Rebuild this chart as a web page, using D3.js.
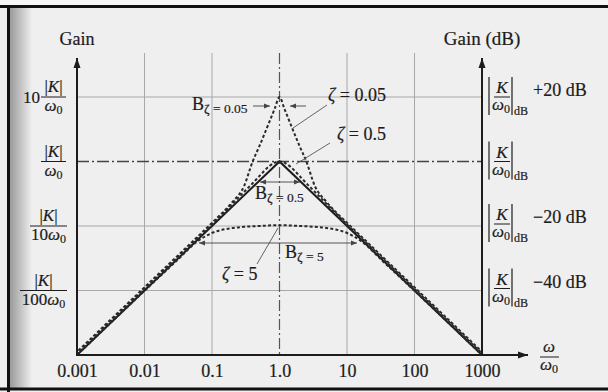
<!DOCTYPE html>
<html>
<head>
<meta charset="utf-8">
<script src="https://cdn.jsdelivr.net/npm/d3@7"></script>
<style>
  body { margin: 0; background: #fff; }
  svg { display: block; }
  text { font-family: "Liberation Serif", "DejaVu Serif", serif; fill: #1c1c1c; stroke: #1c1c1c; stroke-width: 0.2; }
</style>
</head>
<body>
<svg width="608" height="392"></svg>
<script>
// frequency axis (omega / omega0)
const xTicks = [0.001, 0.01, 0.1, 1, 10, 100, 1000];
const xTickLabels = ["0.001", "0.01", "0.1", "1.0", "10", "100", "1000"];

// gain levels (relative to |K|/omega0)
const gainTicks = [10, 1, 0.1, 0.01];
const gainPrefixes = ["10", "", "", ""];
const gainDenoms = ["", "", "10", "100"];
const dbLabels = ["+20 dB", "", "\u221220 dB", "\u221240 dB"];

// straight-line asymptote
const asymFreq = [0.001, 1, 1000];
const asymGain = [0.001, 1, 0.001];

// curves
const freq = [0.001, 0.01, 0.03, 0.06, 0.1, 0.2, 0.3, 0.4, 0.5, 0.7, 0.85, 1,
  1.18, 1.43, 2, 2.5, 3.33, 5, 10, 16.7, 33.3, 100, 1000];
const gainZ005 = [0.00112, 0.0112, 0.0335, 0.067, 0.112, 0.235, 0.42, 1.0, 1.7, 4.0, 6.6, 10,
  6.6, 4.0, 1.7, 1.0, 0.42, 0.235, 0.112, 0.067, 0.0335, 0.0112, 0.00112];
const gainZ05 = [0.00106, 0.0106, 0.0318, 0.0635, 0.106, 0.22, 0.34, 0.46, 0.59, 0.84, 0.96, 1,
  0.96, 0.84, 0.59, 0.46, 0.34, 0.22, 0.106, 0.0635, 0.0318, 0.0106, 0.00106];
const gainZ5 = [0.001, 0.0099, 0.029, 0.057, 0.078, 0.093, 0.097, 0.099, 0.1, 0.102, 0.103, 0.103,
  0.103, 0.102, 0.1, 0.099, 0.097, 0.093, 0.078, 0.057, 0.029, 0.0099, 0.001];

const svg = d3.select("svg");

const x = d3.scaleLog().domain([0.001, 1000]).range([77, 482]);
const y = d3.scaleLog().domain([0.001, 10]).range([355, 97]);

// arrow markers
const defs = svg.append("defs");
defs.append("marker")
  .attr("id", "arrow")
  .attr("viewBox", "0 0 10 10")
  .attr("refX", 10).attr("refY", 5)
  .attr("markerWidth", 10).attr("markerHeight", 10)
  .attr("markerUnits", "userSpaceOnUse")
  .attr("orient", "auto")
  .append("path").attr("d", "M0,1.5 L10,5 L0,8.5 Z").attr("fill", "#1c1c1c");
defs.append("marker")
  .attr("id", "small")
  .attr("viewBox", "0 0 10 10")
  .attr("refX", 10).attr("refY", 5)
  .attr("markerWidth", 6).attr("markerHeight", 6)
  .attr("markerUnits", "userSpaceOnUse")
  .attr("orient", "auto-start-reverse")
  .append("path").attr("d", "M0,1 L10,5 L0,9 Z").attr("fill", "#444");
const shade = defs.append("linearGradient").attr("id", "shade");
shade.append("stop").attr("offset", "0").attr("stop-color", "#9a9a9a");
shade.append("stop").attr("offset", "1").attr("stop-color", "#efefef");

// scanned page background
svg.append("rect").attr("width", 608).attr("height", 392).attr("fill", "#efefef");
svg.append("rect").attr("x", 10).attr("y", 8).attr("width", 22).attr("height", 380).attr("fill", "url(#shade)");
svg.append("rect").attr("x", 0).attr("y", 0).attr("width", 608).attr("height", 5).attr("fill", "#f6f6f6");
svg.append("line").attr("x1", 0).attr("x2", 608).attr("y1", 6.5).attr("y2", 6.5).attr("stroke", "#111").attr("stroke-width", 3);
svg.append("line").attr("x1", 8.5).attr("x2", 8.5).attr("y1", 6).attr("y2", 392).attr("stroke", "#111").attr("stroke-width", 3);
svg.append("line").attr("x1", 0).attr("x2", 608).attr("y1", 389).attr("y2", 389).attr("stroke", "#111").attr("stroke-width", 3);

// grid
const grid = svg.append("g");
grid.selectAll(".vg").data(xTicks.filter(d => d !== 0.001 && d !== 1 && d !== 1000)).join("line")
  .attr("x1", d => x(d)).attr("x2", d => x(d))
  .attr("y1", 53).attr("y2", y(0.001))
  .attr("stroke", "#a8a8a8").attr("stroke-width", 1);
grid.selectAll(".hg").data(gainTicks.filter(d => d !== 1)).join("line")
  .attr("x1", x(0.001)).attr("x2", x(1000))
  .attr("y1", d => y(d)).attr("y2", d => y(d))
  .attr("stroke", "#a8a8a8").attr("stroke-width", 1);
// dash-dot reference lines at omega0 and |K|/omega0
grid.append("line")
  .attr("x1", x(1)).attr("x2", x(1)).attr("y1", 53).attr("y2", y(0.001))
  .attr("stroke", "#555").attr("stroke-width", 1.2).attr("stroke-dasharray", "11,3,2,3");
grid.append("line")
  .attr("x1", x(0.001)).attr("x2", x(1000)).attr("y1", y(1)).attr("y2", y(1))
  .attr("stroke", "#444").attr("stroke-width", 1.4).attr("stroke-dasharray", "12,3,2,3");

// curves
const line = d3.line().x(d => x(d[0])).y(d => y(d[1])).curve(d3.curveMonotoneX);
const straight = d3.line().x(d => x(d[0])).y(d => y(d[1]));

svg.append("path")
  .attr("d", straight(d3.zip(asymFreq, asymGain)))
  .attr("fill", "none").attr("stroke", "#1c1c1c").attr("stroke-width", 2);

[gainZ5, gainZ05, gainZ005].forEach((g, i) => {
  svg.append("path")
    .attr("d", line(d3.zip(freq, g)))
    .attr("fill", "none").attr("stroke", "#2a2a2a")
    .attr("stroke-width", 2)
    .attr("stroke-dasharray", "3,2.2")
    .attr("stroke-dashoffset", i * 1.7);
});

// axes
svg.append("line")
  .attr("x1", x(0.001)).attr("x2", 528).attr("y1", y(0.001)).attr("y2", y(0.001))
  .attr("stroke", "#1c1c1c").attr("stroke-width", 2).attr("marker-end", "url(#arrow)");
[0.001, 1000].forEach(v => {
  svg.append("line")
    .attr("x1", x(v)).attr("x2", x(v)).attr("y1", y(0.001) + 1).attr("y2", 58)
    .attr("stroke", "#1c1c1c").attr("stroke-width", 2).attr("marker-end", "url(#arrow)");
});

const xAxis = d3.axisBottom(x)
  .tickValues(xTicks)
  .tickFormat((d, i) => xTickLabels[i])
  .tickSize(0)
  .tickPadding(9);
const gx = svg.append("g").attr("transform", `translate(0,${y(0.001)})`).call(xAxis);
gx.select(".domain").remove();
gx.selectAll("text").attr("font-size", 18).attr("fill", "#1c1c1c")
  .style("font-family", "'Liberation Serif', serif");

// axis titles
svg.append("text").attr("x", x(0.001)).attr("y", 45).attr("text-anchor", "middle")
  .attr("font-size", 18).text("Gain");
svg.append("text").attr("x", x(1000)).attr("y", 45).attr("text-anchor", "middle")
  .attr("font-size", 19).text("Gain (dB)");

// omega / omega0 label
const xl = svg.append("g");
xl.append("text").attr("x", 549).attr("y", 352).attr("text-anchor", "middle")
  .attr("font-size", 17).attr("font-style", "italic").text("\u03c9");
xl.append("line").attr("x1", 540).attr("x2", 559).attr("y1", 357).attr("y2", 357)
  .attr("stroke", "#1c1c1c").attr("stroke-width", 1);
const xd = xl.append("text").attr("x", 549).attr("y", 370).attr("text-anchor", "middle").attr("font-size", 17);
xd.append("tspan").attr("font-style", "italic").text("\u03c9");
xd.append("tspan").attr("font-size", 12).attr("dy", 3).text("0");

// left gain labels (fractions)
gainTicks.forEach((g, i) => {
  const y0 = y(g);
  const grp = svg.append("g");
  const right = i < 2 ? 66 : 67;
  const left = i < 2 ? 41 : (i === 2 ? 30 : 20);
  const xc = (left + right) / 2;
  grp.append("line").attr("x1", left).attr("x2", right).attr("y1", y0).attr("y2", y0)
    .attr("stroke", "#1c1c1c").attr("stroke-width", 1);
  const num = grp.append("text").attr("x", xc).attr("y", y0 - 5).attr("text-anchor", "middle").attr("font-size", 17);
  num.append("tspan").text("|");
  num.append("tspan").attr("font-style", "italic").text("K");
  num.append("tspan").text("|");
  const den = grp.append("text").attr("x", xc).attr("y", y0 + 14).attr("text-anchor", "middle").attr("font-size", 17);
  den.append("tspan").text(gainDenoms[i]);
  den.append("tspan").attr("font-style", "italic").text("\u03c9");
  den.append("tspan").attr("font-size", 12).attr("dy", 3).text("0");
  if (gainPrefixes[i]) {
    grp.append("text").attr("x", 40).attr("y", y0 + 6).attr("text-anchor", "end")
      .attr("font-size", 17).text(gainPrefixes[i]);
  }
});

// right dB labels
gainTicks.forEach((g, i) => {
  const y0 = y(g) - (i >= 2 ? 2 : 0);
  const grp = svg.append("g");
  grp.append("line").attr("x1", 489).attr("x2", 489).attr("y1", y0 - 20).attr("y2", y0 + 18)
    .attr("stroke", "#1c1c1c").attr("stroke-width", 1.2);
  grp.append("line").attr("x1", 512).attr("x2", 512).attr("y1", y0 - 20).attr("y2", y0 + 18)
    .attr("stroke", "#1c1c1c").attr("stroke-width", 1.2);
  grp.append("line").attr("x1", 494).attr("x2", 510).attr("y1", y0).attr("y2", y0)
    .attr("stroke", "#1c1c1c").attr("stroke-width", 1);
  grp.append("text").attr("x", 502).attr("y", y0 - 4).attr("text-anchor", "middle")
    .attr("font-size", 17).attr("font-style", "italic").text("K");
  const den = grp.append("text").attr("x", 501).attr("y", y0 + 13).attr("text-anchor", "middle").attr("font-size", 17);
  den.append("tspan").attr("font-style", "italic").text("\u03c9");
  den.append("tspan").attr("font-size", 12).attr("dy", 3).text("0");
  grp.append("text").attr("x", 514).attr("y", y0 + 18).attr("font-size", 12).text("dB");
  if (dbLabels[i]) {
    grp.append("text").attr("x", 533).attr("y", y0 - 1).attr("font-size", 18).text(dbLabels[i]);
  }
});

// annotations
function bLabel(bx, by, sub) {
  const t = svg.append("text").attr("x", bx).attr("y", by).attr("font-size", 18);
  t.append("tspan").text("B");
  t.append("tspan").attr("font-size", 13.5).attr("dy", 3).text(sub);
}
function zLabel(zx, zy, val) {
  const t = svg.append("text").attr("x", zx).attr("y", zy).attr("font-size", 18);
  t.append("tspan").attr("font-style", "italic").text("\u03b6");
  t.append("tspan").text(" = " + val);
}
function leader(x1, y1, x2, y2) {
  svg.append("line").attr("x1", x1).attr("y1", y1).attr("x2", x2).attr("y2", y2)
    .attr("stroke", "#555").attr("stroke-width", 0.9);
}
function arrowLine(x1, x2, yy, both) {
  svg.append("line").attr("x1", x1).attr("x2", x2).attr("y1", yy).attr("y2", yy)
    .attr("stroke", "#444").attr("stroke-width", 0.9)
    .attr("marker-end", "url(#small)")
    .attr("marker-start", both ? "url(#small)" : null);
}

bLabel(192, 110, "\u03b6 = 0.05");
arrowLine(253, 270, 106, false);
arrowLine(306, 290, 106, false);

zLabel(328, 101, "0.05");
leader(327, 105, 293, 128);
zLabel(337, 140, "0.5");
leader(330, 143, 296, 164);

bLabel(255, 199, "\u03b6 = 0.5");
arrowLine(260, 300, 182, true);

bLabel(285, 258, "\u03b6 = 5");
arrowLine(199, 357, 243, true);

zLabel(222, 280, "5");
leader(257, 264, 278, 228);
</script>
</body>
</html>
